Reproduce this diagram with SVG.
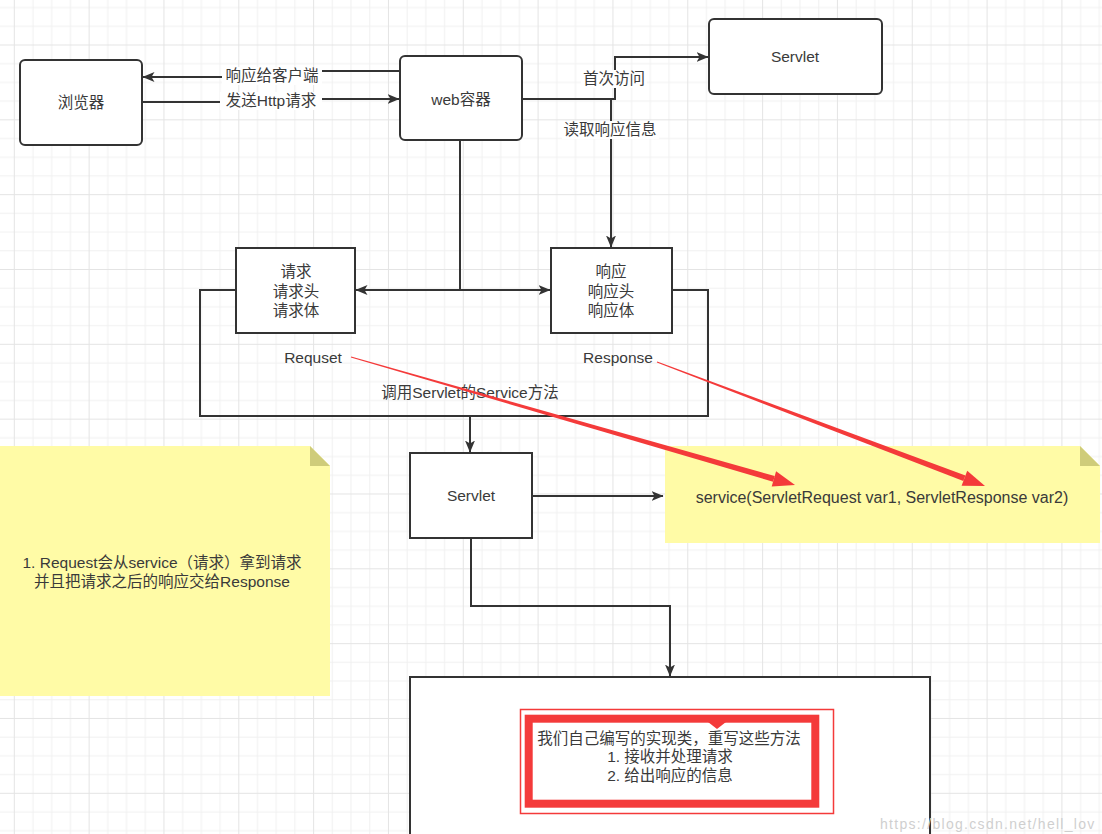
<svg xmlns="http://www.w3.org/2000/svg" width="1102" height="834" viewBox="0 0 1102 834">
<style>
text{font-family:"Liberation Sans","Noto Sans CJK SC",sans-serif;font-size:15.5px;fill:#3a3a3a;text-anchor:middle}
.box{fill:#fff;stroke:#333;stroke-width:2}
.edge{fill:none;stroke:#333;stroke-width:2}
.lbg{fill:#fff}
.note{fill:#fffba6}
.fold{fill:#cfcc7a}
.red{fill:#f43a3a}
</style>
<defs>
<pattern id="grid" patternUnits="userSpaceOnUse" x="13.8" y="44.5" width="74.83" height="74.83">
<rect width="74.83" height="74.83" fill="#fff"/>
<path d="M19.2,0V74.83M37.9,0V74.83M56.6,0V74.83M0,19.2H74.83M0,37.9H74.83M0,56.6H74.83" stroke="#f1f1f1" stroke-width="1"/>
<path d="M0.5,0V74.83M0,0.5H74.83" stroke="#e4e4e4" stroke-width="1"/>
</pattern>
<marker id="arr" viewBox="0 0 12 10" refX="11.5" refY="5" markerWidth="12" markerHeight="10" markerUnits="userSpaceOnUse" orient="auto">
<path d="M0,0L12,5L0,10L3,5z" fill="#333"/>
</marker>
</defs>
<rect width="1102" height="834" fill="url(#grid)"/>

<g id="note-left">
<polygon class="note" points="0,446 310,446 330,466 330,696 0,696"/>
<polygon class="fold" points="310,446 310,466 330,466"/>
<text x="162" y="568">1. Request会从service（请求）拿到请求</text>
<text x="162" y="587">并且把请求之后的响应交给Response</text>
</g>

<g id="note-right">
<polygon class="note" points="665,446 1080,446 1100,466 1100,543 665,543"/>
<polygon class="fold" points="1080,446 1080,466 1100,466"/>
<text x="882" y="503" style="font-size:16px">service(ServletRequest var1, ServletResponse var2)</text>
</g>

<g id="connectors">
<path class="edge" d="M400,71H272V77H143" marker-end="url(#arr)"/>
<path class="edge" d="M142,102H272V99H399" marker-end="url(#arr)"/>
<path class="edge" d="M522,99H615V57H708" marker-end="url(#arr)"/>
<path class="edge" d="M522,99H611V247" marker-end="url(#arr)"/>
<path class="edge" d="M460,140V290H356" marker-end="url(#arr)"/>
<path class="edge" d="M460,290H550" marker-end="url(#arr)"/>
<path class="edge" d="M236,290H200V416H708V290H672"/>
<path class="edge" d="M470,416V452" marker-end="url(#arr)"/>
<path class="edge" d="M532,496H663" marker-end="url(#arr)"/>
<path class="edge" d="M471,538V606H670V676" marker-end="url(#arr)"/>
<rect class="lbg" x="222" y="67" width="100" height="18"/>
<text x="272" y="81">响应给客户端</text>
<rect class="lbg" x="220" y="92" width="102" height="18"/>
<text x="271" y="106">发送Http请求</text>
<rect class="lbg" x="581" y="70" width="66" height="18"/>
<text x="614" y="84">首次访问</text>
<rect class="lbg" x="562" y="121" width="97" height="18"/>
<text x="610" y="135">读取响应信息</text>
<text x="470" y="398">调用Servlet的Service方法</text>
<text x="313" y="363">Requset</text>
<text x="618" y="363">Response</text>
</g>

<g id="browser">
<rect class="box" x="20" y="60" width="122" height="85" rx="5"/>
<text x="81" y="108">浏览器</text>
</g>
<g id="web-container">
<rect class="box" x="400" y="56" width="122" height="84" rx="5"/>
<text x="461" y="105">web容器</text>
</g>
<g id="servlet-top">
<rect class="box" x="709" y="19" width="173" height="75" rx="5"/>
<text x="795" y="62">Servlet</text>
</g>
<g id="request">
<rect class="box" x="236" y="248" width="119" height="85"/>
<text x="296" y="277">请求</text>
<text x="296" y="297">请求头</text>
<text x="296" y="316">请求体</text>
</g>
<g id="response">
<rect class="box" x="551" y="248" width="121" height="85"/>
<text x="611" y="277">响应</text>
<text x="611" y="297">响应头</text>
<text x="611" y="316">响应体</text>
</g>
<g id="servlet">
<rect class="box" x="410" y="453" width="122" height="85"/>
<text x="471" y="501">Servlet</text>
</g>
<g id="impl-class">
<rect class="box" x="410" y="677" width="520" height="200"/>
<rect x="520.5" y="709.5" width="313" height="104" fill="none" stroke="#f43a3a" stroke-width="1.5"/>
<rect x="528.7" y="718.7" width="286.6" height="85" fill="none" stroke="#f43a3a" stroke-width="8"/>
<polygon class="red" points="708,722 726,722 717,729"/>
<text x="669" y="744">我们自己编写的实现类，重写这些方法</text>
<text x="670" y="762">1.  接收并处理请求</text>
<text x="670" y="781">2.  给出响应的信息</text>
</g>

<g id="annotations">
<polygon class="red" points="350.86,357.48 773.07,481.78 774.73,476.02 351.14,356.52"/>
<polygon class="red" points="771.7,486.6 776.1,471.2 795,485"/>
<polygon class="red" points="656.82,362.47 963.34,481.0 965.46,475.4 657.18,361.53"/>
<polygon class="red" points="961.6,485.7 967.2,470.7 985,486"/>
</g>
<text x="880" y="829" style="text-anchor:start;fill:#cfcfcf;font-size:14px;letter-spacing:1.3px">https://blog.csdn.net/hell_lov</text>
</svg>
